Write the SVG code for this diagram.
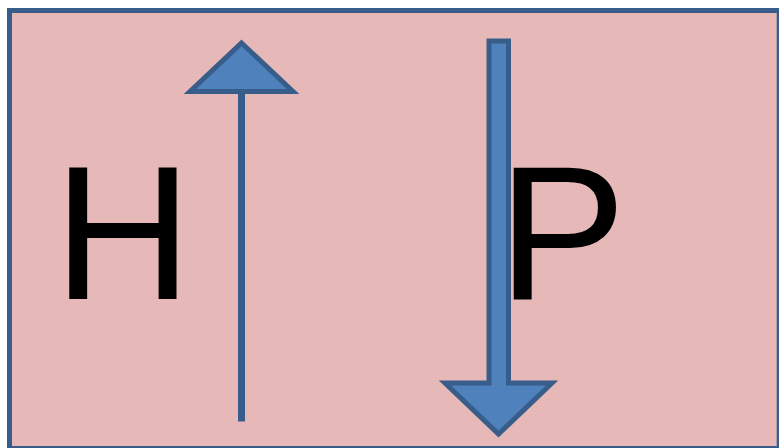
<svg xmlns="http://www.w3.org/2000/svg" width="779" height="448" viewBox="0 0 779 448">
<style>
.lbl{font-family:"Liberation Sans",Arial,sans-serif;font-size:192px;fill:#000}
.arrow{fill:#4F81BD;stroke:#385D8A;stroke-width:5;stroke-linejoin:miter}
</style>
<rect width="779" height="448" fill="#fff"/>
<g id="box">
<rect x="9.5" y="10.5" width="769.7" height="438" fill="#E6B9B8" stroke="#385D8A" stroke-width="5"/>
</g>
<g id="label-H"><text class="lbl" x="53.6" y="299.3">H</text></g>
<g id="label-P"><text class="lbl" x="498" y="299.3">P</text></g>
<g id="connectors">
<g id="up-arrow">
<line x1="241.5" y1="421.5" x2="241.5" y2="90" stroke="#385D8A" stroke-width="7"/>
<polygon class="arrow" points="241.5,43 293,91.5 190,91.5"/>
</g>
<g id="down-arrow">
<polygon class="arrow" points="489,41 508.5,41 508.5,383 552,383 498.5,434 445,383 489,383"/>
</g>
</g>
</svg>
